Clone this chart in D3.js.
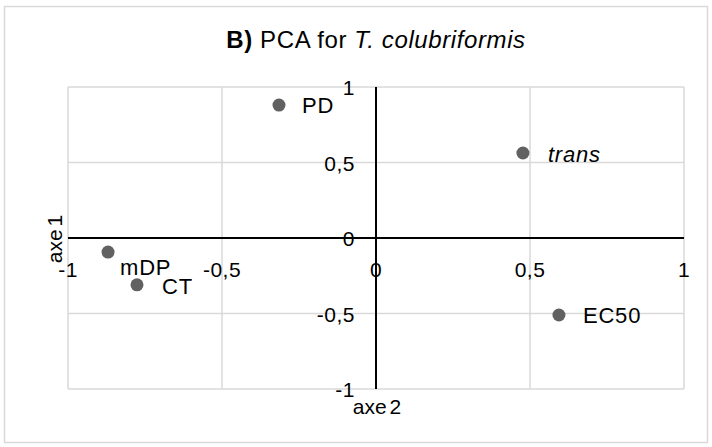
<!DOCTYPE html>
<html>
<head>
<meta charset="utf-8">
<script src="https://cdn.jsdelivr.net/npm/d3@7"></script>
<style>
  html, body { margin: 0; padding: 0; background: #fff; }
  svg { display: block; font-family: "Liberation Sans", Arial, sans-serif; }
</style>
</head>
<body>
<svg id="chart" width="712" height="447"></svg>
<script>
// PCA loadings
const names = ["PD", "trans", "mDP", "CT", "EC50"];
const axe2 = [-0.315, 0.477, -0.87, -0.776, 0.594];
const axe1 = [0.88, 0.563, -0.093, -0.31, -0.51];
const italic = [false, true, false, false, false];
const ticks = [-1, -0.5, 0, 0.5, 1];
// label placement relative to its point (mDP sits below the point)
const labelDx = [23, 25, 12, 25, 24];
const labelDy = [8, 9, 23, 9, 8];

const svg = d3.select("#chart");
const x = d3.scaleLinear().domain([-1, 1]).range([68, 684]);
const y = d3.scaleLinear().domain([-1, 1]).range([389, 87]);
const fmt = v => String(v).replace(".", ",");

svg.append("rect")
    .attr("x", 4.5).attr("y", 6.5).attr("width", 703).attr("height", 436)
    .attr("fill", "#fff").attr("stroke", "#d9d9d9").attr("stroke-width", 1.5);

const title = svg.append("text")
    .attr("x", 376).attr("y", 48).attr("text-anchor", "middle")
    .attr("font-size", 24).attr("letter-spacing", 0.6).attr("fill", "#000");
title.append("tspan").attr("font-weight", "bold").text("B)");
title.append("tspan").text(" PCA for ");
title.append("tspan").attr("font-style", "italic").text("T. colubriformis");

// gridlines
svg.append("g").selectAll("line").data(ticks).join("line")
    .attr("x1", d => x(d)).attr("x2", d => x(d))
    .attr("y1", y(1)).attr("y2", y(-1))
    .attr("stroke", "#d9d9d9").attr("stroke-width", 1.5);
svg.append("g").selectAll("line").data(ticks).join("line")
    .attr("y1", d => y(d)).attr("y2", d => y(d))
    .attr("x1", x(-1)).attr("x2", x(1))
    .attr("stroke", "#d9d9d9").attr("stroke-width", 1.5);

// axes through origin
svg.append("line").attr("x1", x(-1)).attr("x2", x(1)).attr("y1", y(0)).attr("y2", y(0))
    .attr("stroke", "#000").attr("stroke-width", 2);
svg.append("line").attr("x1", x(0)).attr("x2", x(0)).attr("y1", y(1)).attr("y2", y(-1))
    .attr("stroke", "#000").attr("stroke-width", 2);

// tick labels
svg.append("g").selectAll("text").data(ticks).join("text")
    .attr("x", d => x(d)).attr("y", y(0) + 39)
    .attr("text-anchor", "middle").attr("font-size", 21).attr("letter-spacing", 0.5)
    .attr("fill", "#000").text(fmt);
svg.append("g").selectAll("text").data(ticks).join("text")
    .attr("x", x(0) - 21).attr("y", d => y(d) + 8)
    .attr("text-anchor", "end").attr("font-size", 21).attr("letter-spacing", 0.5)
    .attr("fill", "#000").text(fmt);

// axis titles
svg.append("text").attr("transform", `translate(62,239) rotate(-90)`)
    .attr("text-anchor", "middle").attr("font-size", 21).attr("word-spacing", -3)
    .attr("fill", "#000").text("axe 1");
svg.append("text").attr("x", 377).attr("y", 414)
    .attr("text-anchor", "middle").attr("font-size", 21).attr("word-spacing", -3)
    .attr("fill", "#000").text("axe 2");

// points
const pts = svg.append("g").selectAll("g").data(names).join("g")
    .attr("transform", (d, i) => `translate(${x(axe2[i])},${y(axe1[i])})`);
pts.append("circle").attr("r", 6.5).attr("fill", "#616161");
pts.append("text").attr("x", (d, i) => labelDx[i]).attr("y", (d, i) => labelDy[i])
    .attr("font-size", 22).attr("letter-spacing", 0.8).attr("fill", "#000")
    .attr("font-style", (d, i) => italic[i] ? "italic" : "normal")
    .text(d => d);
</script>
</body>
</html>
